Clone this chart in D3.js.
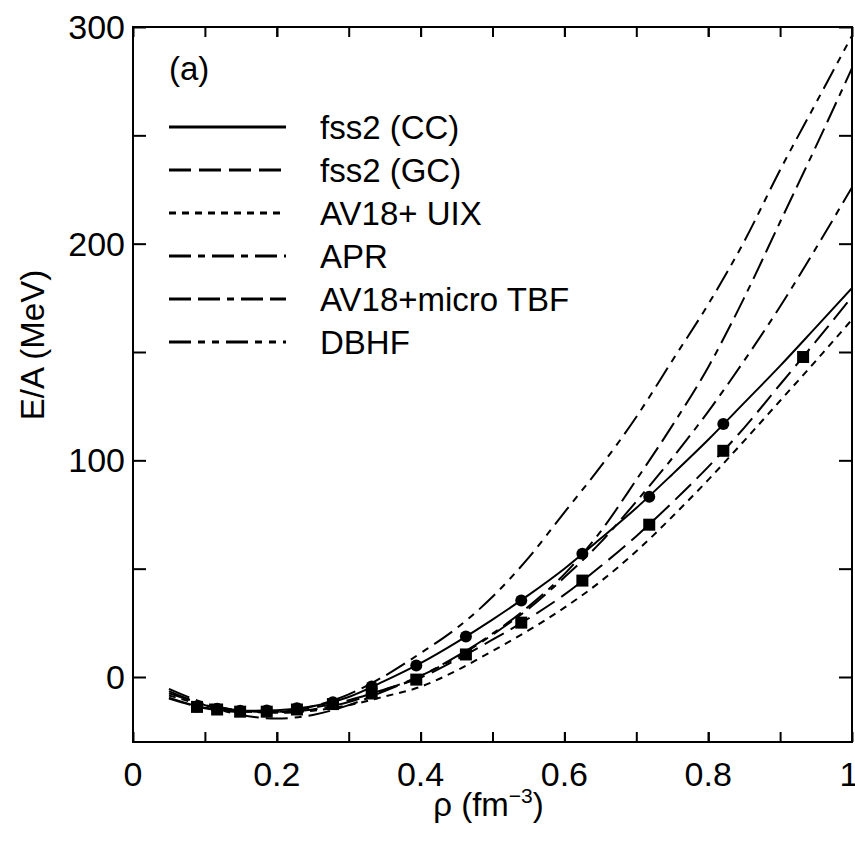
<!DOCTYPE html>
<html>
<head>
<meta charset="utf-8">
<script src="https://cdn.jsdelivr.net/npm/d3@7"></script>
<style>
  body { margin: 0; background: #fff; }
  svg text { font-family: "Liberation Sans", Helvetica, Arial, sans-serif; fill: #000; }
</style>
</head>
<body>
<svg id="chart" width="855" height="843"></svg>
<script>
// density grid for the curves (fm^-3)
var rhoLine = [0.05, 0.1, 0.15, 0.2, 0.25, 0.3, 0.35, 0.4, 0.45, 0.5,
               0.55, 0.6, 0.65, 0.7, 0.75, 0.8, 0.85, 0.9, 0.95, 1.0];

// E/A (MeV)
var fss2CC  = [-9.5, -14.2, -15.6, -15.3, -13.5, -9.2, -1.8, 6.4, 16, 26.5,
               37.8, 50, 63.8, 78, 93.5, 109.5, 126.5, 143.6, 161.5, 179.5];
var fss2GC  = [-10, -14.4, -16, -16, -14.2, -10.7, -5.7, -0.3, 8, 17.2,
               27, 38, 51, 65, 80.5, 97, 115, 135, 155, 175.5];
var av18UIX = [-8.5, -13, -15.8, -16.5, -15.6, -13, -9, -4.5, 3, 12,
               21.5, 32, 44, 58, 74, 91, 109, 127.5, 146, 165];
var apr     = [-7.5, -12.5, -15.5, -16.2, -15, -11.5, -6, 0.5, 9, 19.5,
               31.5, 46, 62, 81, 101, 122.5, 146, 171, 198, 226];
var av18TBF = [-6.5, -13, -17.5, -19.2, -17.5, -13, -6.5, 0.5, 9.5, 20,
               32.5, 47.5, 67, 91, 116, 143, 175, 210, 245, 281];
var dbhf    = [-5.5, -12, -15.5, -16, -13.5, -8, 0.5, 11, 22.5, 37,
               55, 76, 97, 120, 146, 172, 201, 234, 265, 296];

// points (kF = 1.1 ... 2.4 fm^-1)
var rhoMarks  = [0.089, 0.117, 0.149, 0.186, 0.228, 0.278, 0.332, 0.394,
                 0.463, 0.540, 0.625, 0.718, 0.821, 0.932];
var ccPoints  = [-13.6, -14.6, -15.6, -15.5, -14.4, -11.7, -4.4, 5.3,
                 18.7, 35.3, 56.9, 83.2, 116.8];
var gcPoints  = [-13.8, -15, -16, -16, -15, -12.5, -7.6, -1.2,
                 10.4, 25.1, 44.5, 70.3, 104.4, 147.7];

var seriesNames = ["fss2 (CC)", "fss2 (GC)", "AV18+ UIX", "APR", "AV18+micro TBF", "DBHF"];
var seriesValues = [fss2CC, fss2GC, av18UIX, apr, av18TBF, dbhf];
var seriesDash = ["none", "22,8", "7,6", "22,7,7,7", "22,7,22,7,7,7", "22,7,7,7,7,7"];

var xTicks = [0, 0.2, 0.4, 0.6, 0.8, 1];
var xTickLabels = ["0", "0.2", "0.4", "0.6", "0.8", "1"];
var yTicks = [0, 100, 200, 300];

(function() {
  var svg = d3.select("#chart");
  var pl = 133, pr = 852, pt = 27, pb = 742;

  var x = d3.scaleLinear().domain([0, 1]).range([pl, pr]);
  var y = d3.scaleLinear().domain([-30, 300]).range([pb, pt]);

  svg.append("clipPath").attr("id", "clip")
    .append("rect")
      .attr("x", pl).attr("y", pt)
      .attr("width", pr - pl).attr("height", pb - pt);

  // axes, ticks inward on all four sides
  var minorX = d3.range(1, 10).map(function(k) { return k / 10; });
  var minorY = [50, 150, 250];

  svg.append("g")
      .attr("transform", "translate(0," + pb + ")")
      .call(d3.axisBottom(x).tickValues(xTicks.concat(minorX)).tickSize(-10).tickFormat(""));
  svg.append("g")
      .attr("transform", "translate(0," + pt + ")")
      .call(d3.axisTop(x).tickValues(xTicks.concat(minorX)).tickSize(-10).tickFormat(""));
  svg.append("g")
      .attr("transform", "translate(" + pl + ",0)")
      .call(d3.axisLeft(y).tickValues(yTicks.concat(minorY)).tickSize(-13).tickFormat(""));
  svg.append("g")
      .attr("transform", "translate(" + pr + ",0)")
      .call(d3.axisRight(y).tickValues(yTicks.concat(minorY)).tickSize(-13).tickFormat(""));

  svg.selectAll(".domain").remove();
  svg.selectAll(".tick line").attr("stroke", "#000").attr("stroke-width", 2);

  svg.append("rect")
      .attr("x", pl).attr("y", pt)
      .attr("width", pr - pl).attr("height", pb - pt)
      .attr("fill", "none").attr("stroke", "#000").attr("stroke-width", 2);

  // tick labels
  svg.selectAll(".xlab").data(xTicks).enter().append("text")
      .attr("class", "xlab")
      .attr("x", function(d) { return d === 1 ? x(d) - 3 : x(d); })
      .attr("y", pb + 44)
      .attr("text-anchor", "middle")
      .style("font-size", "34px")
      .text(function(d, i) { return xTickLabels[i]; });

  svg.selectAll(".ylab").data(yTicks).enter().append("text")
      .attr("class", "ylab")
      .attr("x", pl - 8)
      .attr("y", function(d) { return y(d) + 12; })
      .attr("text-anchor", "end")
      .style("font-size", "34px")
      .text(function(d) { return d; });

  // axis titles
  svg.append("text")
      .attr("transform", "translate(44,345) rotate(-90)")
      .attr("text-anchor", "middle")
      .style("font-size", "33px")
      .text("E/A (MeV)");

  var xt = svg.append("text")
      .attr("x", (pl + pr) / 2 - 4)
      .attr("y", 816)
      .attr("text-anchor", "middle")
      .style("font-size", "33px");
  xt.append("tspan").text("\u03c1 (fm");
  xt.append("tspan").attr("dy", -13).style("font-size", "21px").text("\u22123");
  xt.append("tspan").attr("dy", 13).text(")");

  // curves
  var line = d3.line()
      .x(function(d) { return x(d[0]); })
      .y(function(d) { return y(d[1]); })
      .curve(d3.curveMonotoneX);

  var plot = svg.append("g").attr("clip-path", "url(#clip)");

  seriesValues.forEach(function(vals, i) {
    plot.append("path")
        .datum(rhoLine.map(function(r, j) { return [r, vals[j]]; }))
        .attr("d", line)
        .attr("fill", "none")
        .attr("stroke", "#000")
        .attr("stroke-width", 2)
        .attr("stroke-dasharray", seriesDash[i]);
  });

  // markers
  plot.selectAll(".sq").data(gcPoints).enter().append("rect")
      .attr("class", "sq")
      .attr("x", function(d, i) { return x(rhoMarks[i]) - 6; })
      .attr("y", function(d) { return y(d) - 6; })
      .attr("width", 12).attr("height", 12)
      .attr("fill", "#000");

  plot.selectAll(".dot").data(ccPoints).enter().append("circle")
      .attr("class", "dot")
      .attr("cx", function(d, i) { return x(rhoMarks[i]); })
      .attr("cy", function(d) { return y(d); })
      .attr("r", 6)
      .attr("fill", "#000");

  // panel label and legend
  svg.append("text")
      .attr("x", 169).attr("y", 80)
      .style("font-size", "33px")
      .text("(a)");

  var legend = svg.append("g");
  seriesNames.forEach(function(name, i) {
    var ly = 127 + i * 43;
    legend.append("line")
        .attr("x1", 169).attr("x2", 286)
        .attr("y1", ly).attr("y2", ly)
        .attr("stroke", "#000")
        .attr("stroke-width", 3)
        .attr("stroke-dasharray", seriesDash[i]);
    legend.append("text")
        .attr("x", 320).attr("y", ly + 12)
        .style("font-size", "33px")
        .text(name);
  });
})();
</script>
</body>
</html>
